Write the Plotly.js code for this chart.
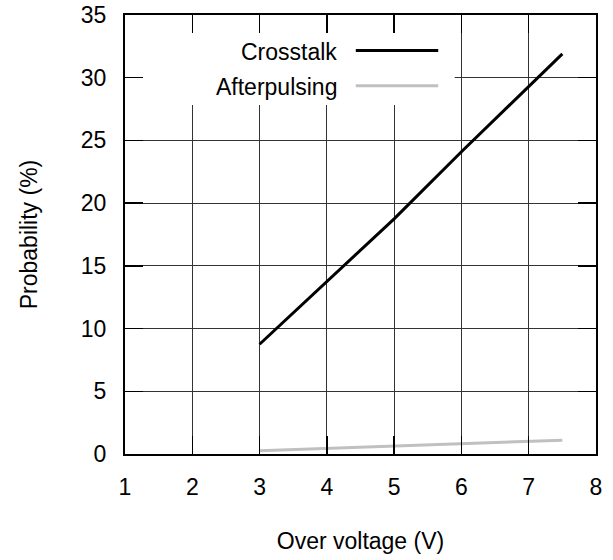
<!DOCTYPE html>
<html>
<head>
<meta charset="utf-8">
<script src="https://cdn.plot.ly/plotly-3.0.1.min.js"></script>
<style>
  html, body { margin: 0; padding: 0; background: #fff; }
  #chart { width: 613px; height: 560px; }
</style>
</head>
<body>
<div id="chart"></div>
<script>
// Data
var overVoltage = [3, 4, 5, 6, 7, 7.5];
var crosstalk = [8.75, 13.75, 18.75, 24.1, 29.3, 31.9];
var afterpulsing = [0.25, 0.45, 0.65, 0.85, 1.0, 1.1];
var seriesNames = ['Crosstalk', 'Afterpulsing'];
var seriesColors = ['#000000', '#c0c0c0'];
var xTicks = [1, 2, 3, 4, 5, 6, 7, 8];
var yTicks = [0, 5, 10, 15, 20, 25, 30, 35];
var xRange = [1, 8];
var yRange = [0, 35];

var FONT = 'Liberation Sans, Arial, sans-serif';
var FS = 23;

var traces = [
  {
    x: overVoltage, y: crosstalk, name: seriesNames[0], mode: 'lines',
    line: { color: seriesColors[0], width: 3 }, showlegend: false
  },
  {
    x: overVoltage, y: afterpulsing, name: seriesNames[1], mode: 'lines',
    line: { color: seriesColors[1], width: 3 }, showlegend: false
  }
];

var axisCommon = {
  showline: true, linecolor: '#000', linewidth: 2, mirror: 'ticks',
  ticks: 'inside', ticklen: 18, tickwidth: 1.5, tickcolor: '#000',
  showgrid: true, gridcolor: '#333', gridwidth: 1,
  zeroline: false,
  tickfont: { family: FONT, size: FS, color: '#000' }
};

// legend box extent as fractions of the plot area
var boxW = 0.70, boxH = 0.205;

var layout = {
  width: 613, height: 560,
  margin: { l: 125, r: 17, t: 15, b: 106 },
  paper_bgcolor: '#fff', plot_bgcolor: '#fff',
  showlegend: false,
  xaxis: Object.assign({}, axisCommon, {
    range: xRange, tickmode: 'array', tickvals: xTicks,
    ticklabelstandoff: 11,
    title: { text: 'Over voltage (V)', font: { family: FONT, size: FS, color: '#000' }, standoff: 34 }
  }),
  yaxis: Object.assign({}, axisCommon, {
    range: yRange, tickmode: 'array', tickvals: yTicks,
    ticklabelstandoff: 12,
    title: { text: 'Probability (%)', font: { family: FONT, size: FS, color: '#000' }, standoff: 37 }
  }),
  shapes: [
    // legend background (covers grid, below ticks)
    { type: 'rect', xref: 'x', yref: 'y',
      x0: xRange[0], x1: xRange[0] + boxW * (xRange[1] - xRange[0]),
      y0: yRange[1] - boxH * (yRange[1] - yRange[0]), y1: yRange[1],
      fillcolor: '#fff', line: { width: 0 }, layer: 'between' },
    // legend line samples
    { type: 'line', xref: 'paper', yref: 'paper', x0: 0.490, x1: 0.665, y0: 0.919, y1: 0.919,
      line: { color: seriesColors[0], width: 3 } },
    { type: 'line', xref: 'paper', yref: 'paper', x0: 0.490, x1: 0.665, y0: 0.839, y1: 0.839,
      line: { color: seriesColors[1], width: 3 } }
  ],
  annotations: [
    { xref: 'paper', yref: 'paper', x: 0.454, y: 0.915, xanchor: 'right', yanchor: 'middle',
      text: seriesNames[0], showarrow: false, font: { family: FONT, size: FS, color: '#000' } },
    { xref: 'paper', yref: 'paper', x: 0.454, y: 0.835, xanchor: 'right', yanchor: 'middle',
      text: seriesNames[1], showarrow: false, font: { family: FONT, size: FS, color: '#000' } }
  ]
};

Plotly.newPlot('chart', traces, layout, { displayModeBar: false, staticPlot: true });
</script>
</body>
</html>
